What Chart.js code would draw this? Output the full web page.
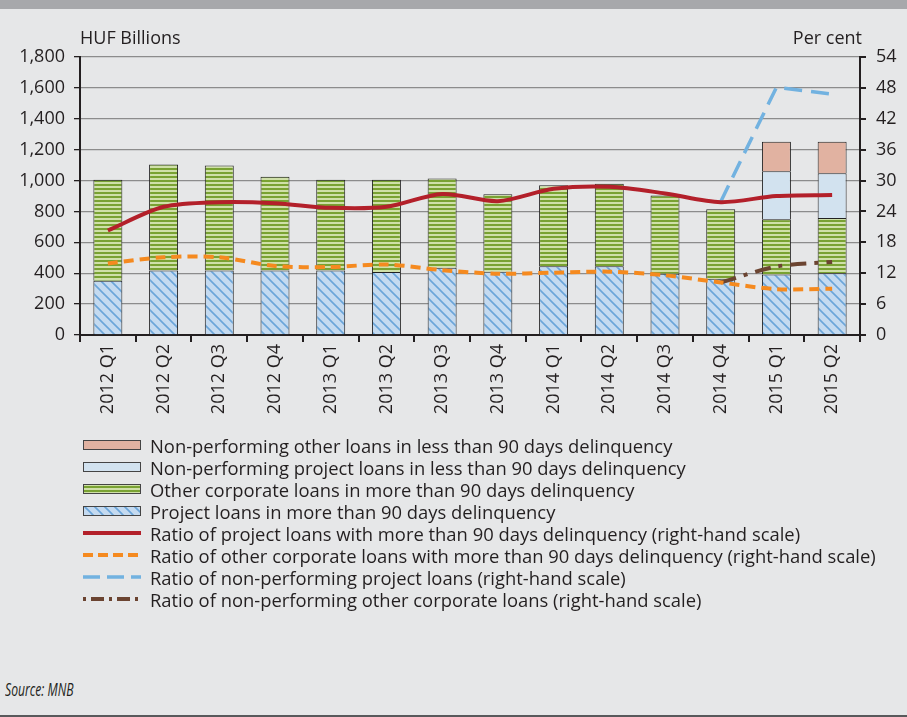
<!DOCTYPE html>
<html>
<head>
<meta charset="utf-8">
<script src="https://cdn.jsdelivr.net/npm/chart.js@4.4.1/dist/chart.umd.min.js"></script>
<style>
  html, body { margin: 0; padding: 0; }
  body {
    width: 907px; height: 717px; position: relative; overflow: hidden;
    background: #e6e7e8; font-family: 'Open Sans', sans-serif; color: #231f20;
  }
  .topband { position: absolute; left: 0; top: 0; width: 907px; height: 9px; background: #a7a8ab; }
  .bottomline { position: absolute; left: 0; top: 715px; width: 907px; height: 2px; background: #58595b; }
  #wrap { position: absolute; left: 0; top: 0; width: 907px; height: 420px; }
  .unit { position: absolute; top: 25px; font-size: 18px; line-height: 24px; }
  #legend { position: absolute; left: 82px; top: 434px; }
  .row { height: 22px; display: flex; align-items: center; font-size: 18.4px; }
  .row canvas { margin-right: 8px; }
  .source { position: absolute; left: 5px; top: 676px; font-size: 19px; font-style: italic;
    transform: scaleX(0.64); transform-origin: left center; }
</style>
</head>
<body>
<div class="topband"></div>
<div id="wrap"><canvas id="chart"></canvas></div>
<div class="unit" style="left:80px">HUF Billions</div>
<div class="unit" style="right:45px">Per cent</div>
<div id="legend"></div>
<div class="source">Source: MNB</div>
<div class="bottomline"></div>
<script>
const quarters = ['2012 Q1', '2012 Q2', '2012 Q3', '2012 Q4', '2013 Q1', '2013 Q2', '2013 Q3',
  '2013 Q4', '2014 Q1', '2014 Q2', '2014 Q3', '2014 Q4', '2015 Q1', '2015 Q2'];

// HUF billions (left scale)
const projectLoans90 = [352, 417, 417, 417, 417, 408, 436, 410, 445, 445, 397, 365, 391, 400];
const otherLoans90 = [653, 687, 680, 607, 588, 597, 577, 502, 525, 534, 506, 450, 359, 358];
const npProjectUnder90 = [null, null, null, null, null, null, null, null, null, null, null, null, 311, 290];
const npOtherUnder90 = [null, null, null, null, null, null, null, null, null, null, null, null, 190, 203];

// per cent (right scale)
const ratioProject90 = [20.3, 24.9, 25.8, 25.6, 24.7, 24.9, 27.4, 26.0, 28.4, 28.8, 27.5, 25.8, 27.0, 27.2];
const ratioOther90 = [13.9, 15.1, 15.1, 13.4, 13.2, 13.7, 12.6, 11.9, 12.1, 12.3, 11.6, 10.2, 8.9, 9.0];
const ratioNpProject = [null, null, null, null, null, null, null, null, null, null, null, 25.9, 48.1, 46.8];
const ratioNpOther = [null, null, null, null, null, null, null, null, null, null, null, 10.2, 13.3, 14.2];

const leftMax = 1800, leftStep = 200;
const rightMax = 54, rightStep = 6;

function hatch() {
  const c = document.createElement('canvas');
  c.width = 10; c.height = 10;
  const g = c.getContext('2d');
  g.fillStyle = '#c4daf0';
  g.fillRect(0, 0, 10, 10);
  g.strokeStyle = '#6aa5d9';
  g.lineWidth = 1.6;
  g.beginPath();
  g.moveTo(-1, -1); g.lineTo(11, 11);
  g.moveTo(4, -6); g.lineTo(16, 6);
  g.moveTo(-6, 4); g.lineTo(6, 16);
  g.stroke();
  return g.createPattern(c, 'repeat');
}

function stripes() {
  const c = document.createElement('canvas');
  c.width = 4; c.height = 4;
  const g = c.getContext('2d');
  g.fillStyle = '#cfe0a8';
  g.fillRect(0, 0, 4, 4);
  g.fillStyle = '#79a232';
  g.fillRect(0, 0, 4, 2);
  return g.createPattern(c, 'repeat');
}

const txt = '#231f20';
const tickFont = { family: 'Open Sans', size: 18 };

const datasets = [
  { type: 'bar', label: 'Project loans in more than 90 days delinquency', data: projectLoans90,
    backgroundColor: hatch(), borderColor: '#222', borderWidth: 1, yAxisID: 'y', order: 2 },
  { type: 'bar', label: 'Other corporate loans in more than 90 days delinquency', data: otherLoans90,
    backgroundColor: stripes(), borderColor: '#222', borderWidth: 1, yAxisID: 'y', order: 2 },
  { type: 'bar', label: 'Non-performing project loans in less than 90 days delinquency', data: npProjectUnder90,
    backgroundColor: '#d2e2ef', borderColor: '#222', borderWidth: 1, yAxisID: 'y', order: 2 },
  { type: 'bar', label: 'Non-performing other loans in less than 90 days delinquency', data: npOtherUnder90,
    backgroundColor: '#e1b2a1', borderColor: '#222', borderWidth: 1, yAxisID: 'y', order: 2 },
  { type: 'line', label: 'Ratio of project loans with more than 90 days delinquency (right-hand scale)',
    data: ratioProject90, borderColor: '#b3202a', borderWidth: 4, tension: 0.3,
    pointRadius: 0, yAxisID: 'y1', order: 1, legendDash: [] },
  { type: 'line', label: 'Ratio of other corporate loans with more than 90 days delinquency (right-hand scale)',
    data: ratioOther90, borderColor: '#f58a1f', borderWidth: 4, borderDash: [10, 6], tension: 0.3,
    pointRadius: 0, yAxisID: 'y1', order: 1, legendDash: [10, 5] },
  { type: 'line', label: 'Ratio of non-performing project loans (right-hand scale)',
    data: ratioNpProject, borderColor: '#72b2e0', borderWidth: 3.5, borderDash: [18, 9], tension: 0,
    pointRadius: 0, yAxisID: 'y1', order: 1, legendDash: [17, 7] },
  { type: 'line', label: 'Ratio of non-performing other corporate loans (right-hand scale)',
    data: ratioNpOther, borderColor: '#6b4431', borderWidth: 4, borderDash: [16, 8, 4, 8], tension: 0.3,
    pointRadius: 0, yAxisID: 'y1', order: 1, legendDash: [3, 5, 13, 5] }
];

const chart = new Chart(document.getElementById('chart'), {
  data: { labels: quarters, datasets: datasets },
  options: {
    responsive: true,
    maintainAspectRatio: false,
    animation: false,
    layout: { padding: { top: 57, left: 0, right: 0, bottom: 0 } },
    datasets: { bar: { barPercentage: 0.52, categoryPercentage: 1 } },
    plugins: { legend: { display: false }, tooltip: { enabled: false } },
    scales: {
      x: {
        stacked: true,
        grid: { offset: true, drawOnChartArea: false, tickLength: 7, tickColor: '#231f20', lineWidth: 2 },
        border: { color: '#231f20', width: 2 },
        ticks: { color: txt, font: tickFont, minRotation: 90, maxRotation: 90, padding: 2 },
        afterFit: s => { s.height = 85; }
      },
      y: {
        stacked: true,
        position: 'left',
        min: 0, max: leftMax,
        grid: { color: '#8c8c8c', lineWidth: 1.3, borderDash: [2, 3], tickColor: '#231f20',
          tickLength: 6, tickBorderDash: [] },
        border: { color: '#231f20', width: 2 },
        ticks: { stepSize: leftStep, color: txt, font: tickFont, padding: 9,
          callback: v => v.toLocaleString('en-US') },
        afterFit: s => { s.width = 80; }
      },
      y1: {
        position: 'right',
        min: 0, max: rightMax,
        grid: { drawOnChartArea: false, tickColor: '#231f20', tickLength: 6, lineWidth: 2 },
        border: { color: '#231f20', width: 2 },
        ticks: { stepSize: rightStep, color: txt, font: tickFont, padding: 10 },
        afterFit: s => { s.width = 47; }
      }
    }
  }
});

// legend in the reference order, swatches drawn with the dataset styles
const legendOrder = [3, 2, 1, 0, 4, 5, 6, 7];
const legend = document.getElementById('legend');
legendOrder.forEach(i => {
  const ds = datasets[i];
  const row = document.createElement('div');
  row.className = 'row';
  const c = document.createElement('canvas');
  c.width = 60; c.height = 14;
  const g = c.getContext('2d');
  if (ds.type === 'bar') {
    g.fillStyle = ds.backgroundColor;
    g.fillRect(1, 2, 58, 10);
    g.strokeStyle = '#444';
    g.lineWidth = 1;
    g.strokeRect(1.5, 2.5, 57, 9);
  } else {
    g.strokeStyle = ds.borderColor;
    g.lineWidth = ds.borderWidth;
    g.setLineDash(ds.legendDash);
    g.beginPath();
    g.moveTo(1, 7); g.lineTo(59, 7);
    g.stroke();
  }
  row.appendChild(c);
  const span = document.createElement('span');
  span.textContent = ds.label;
  row.appendChild(span);
  legend.appendChild(row);
});
</script>
</body>
</html>
